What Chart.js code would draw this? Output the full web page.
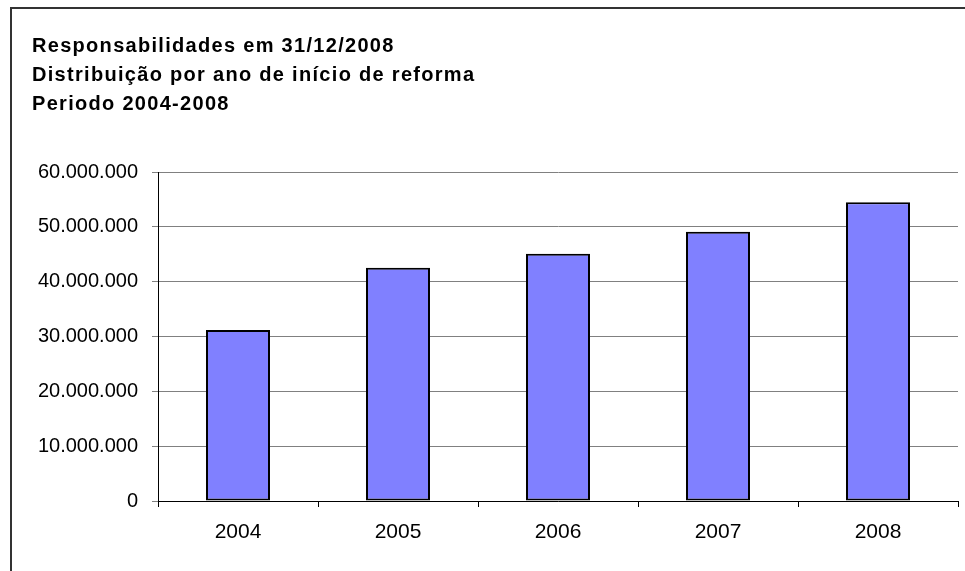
<!DOCTYPE html>
<html>
<head>
<meta charset="utf-8">
<script src="https://cdn.jsdelivr.net/npm/chart.js@4"></script>
<style>
  html, body { margin: 0; padding: 0; background: #fff; }
  #wrap { width: 965px; height: 571px; position: relative; }
</style>
</head>
<body>
<div id="wrap"><canvas id="grafico"></canvas></div>
<script>
// dados
const anos = ["2004", "2005", "2006", "2007", "2008"];
const responsabilidades = [31200000, 42550000, 45100000, 49100000, 54500000];
const titulo = [
  "Responsabilidades em 31/12/2008",
  "Distribuição por ano de início de reforma",
  "Periodo 2004-2008",
];
const eixoMax = 60000000;
const eixoPasso = 10000000;

// 10000000 -> 10.000.000
const formatarNumero = (v) => String(v).replace(/\B(?=(\d{3})+(?!\d))/g, ".");

// moldura e título desenhados à mão (espaçamento entre letras)
const molduraTitulo = {
  id: "molduraTitulo",
  beforeDraw(chart) {
    const ctx = chart.ctx;
    ctx.save();
    ctx.strokeStyle = "#333";
    ctx.lineWidth = 2;
    ctx.beginPath();
    ctx.moveTo(11, chart.height);
    ctx.lineTo(11, 8);
    ctx.lineTo(chart.width, 8);
    ctx.stroke();

    ctx.fillStyle = "#000";
    ctx.font = "bold 20px 'Liberation Sans', Arial, sans-serif";
    ctx.letterSpacing = "1.3px";
    ctx.textBaseline = "alphabetic";
    ctx.textAlign = "left";
    titulo.forEach((linha, i) => {
      ctx.fillText(linha, 32, 52 + i * 29);
    });
    ctx.restore();
  },
};

const ctx = document.getElementById("grafico");
new Chart(ctx, {
  type: "bar",
  data: {
    labels: anos,
    datasets: [
      {
        data: responsabilidades,
        backgroundColor: "#8080FF",
        borderColor: "#000",
        borderWidth: 2,
        borderSkipped: false,
        barPercentage: 0.4,
        categoryPercentage: 1,
      },
    ],
  },
  options: {
    responsive: true,
    maintainAspectRatio: false,
    animation: false,
    layout: { padding: { top: 172, right: 7, left: 0, bottom: 0 } },
    plugins: {
      legend: { display: false },
      title: { display: false },
      tooltip: { enabled: false },
    },
    scales: {
      x: {
        offset: true,
        grid: {
          offset: true,
          drawOnChartArea: false,
          drawTicks: true,
          tickLength: 6,
          tickColor: "#000",
        },
        border: { color: "#000", width: 1 },
        ticks: {
          color: "#000",
          padding: 13,
          font: { family: "'Liberation Sans', Arial, sans-serif", size: 21 },
          maxRotation: 0,
        },
        afterFit(scale) {
          scale.height = 70;
        },
      },
      y: {
        min: 0,
        max: eixoMax,
        grid: {
          color: "#808080",
          lineWidth: 1,
          tickLength: 6,
          tickColor: "#808080",
        },
        border: { color: "#000", width: 1 },
        ticks: {
          stepSize: eixoPasso,
          color: "#000",
          padding: 14,
          font: { family: "'Liberation Sans', Arial, sans-serif", size: 20 },
          callback: (v) => formatarNumero(v),
        },
        afterFit(scale) {
          scale.width = 158;
        },
      },
    },
  },
  plugins: [molduraTitulo],
});
</script>
</body>
</html>
